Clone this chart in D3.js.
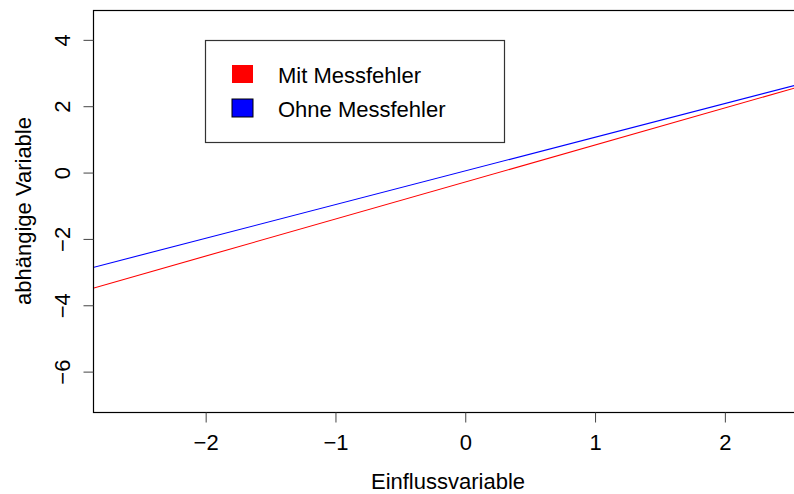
<!DOCTYPE html>
<html>
<head>
<meta charset="utf-8">
<script src="https://cdn.jsdelivr.net/npm/d3@7"></script>
<style>
  body { margin: 0; background: #fff; }
  svg { display: block; font-family: "Liberation Sans", Arial, Helvetica, sans-serif; }
</style>
</head>
<body>
<div id="chart"></div>
<script>
// axis ranges and ticks
var xDomain = [-2.868, 2.602];
var yDomain = [-7.217, 4.9];
var xTicks = [-2, -1, 0, 1, 2];
var yTicks = [-6, -4, -2, 0, 2, 4];

// fitted lines, given by their values at the plot's left and right edge
var lineX = [-2.868, 2.602];
var mitMessfehler = [-3.486, 2.619];
var ohneMessfehler = [-2.861, 2.691];

var seriesNames = ["Mit Messfehler", "Ohne Messfehler"];
var seriesColors = ["#ff0000", "#0000ff"];

var width = 794, height = 494;
var margin = { left: 93, right: -9, top: 10, bottom: 82 };

var svg = d3.select("#chart")
    .append("svg")
    .attr("width", width)
    .attr("height", height);

var x = d3.scaleLinear()
    .domain(xDomain)
    .range([margin.left, width - margin.right]);
var y = d3.scaleLinear()
    .domain(yDomain)
    .range([height - margin.bottom, margin.top]);

var series = [mitMessfehler, ohneMessfehler];
var line = d3.line()
    .x(function(d, i) { return x(lineX[i]); })
    .y(function(d) { return y(d); });

svg.append("defs").append("clipPath")
    .attr("id", "plotclip")
    .append("rect")
    .attr("x", x(xDomain[0]))
    .attr("y", y(yDomain[1]))
    .attr("width", x(xDomain[1]) - x(xDomain[0]))
    .attr("height", y(yDomain[0]) - y(yDomain[1]));

svg.append("g")
    .attr("clip-path", "url(#plotclip)")
    .selectAll("path")
    .data(series)
    .enter()
    .append("path")
    .attr("d", line)
    .attr("fill", "none")
    .attr("stroke", function(d, i) { return seriesColors[i]; })
    .attr("stroke-width", 1.1);

// plot box
svg.append("rect")
    .attr("x", x(xDomain[0]) + 0.5)
    .attr("y", y(yDomain[1]) + 0.5)
    .attr("width", x(xDomain[1]) - x(xDomain[0]))
    .attr("height", y(yDomain[0]) - y(yDomain[1]))
    .attr("fill", "none")
    .attr("stroke", "#000")
    .attr("stroke-width", 1.2);

var fmt = function(d) { return d < 0 ? "\u2212" + Math.abs(d) : String(d); };

// x axis
var xAxis = svg.append("g")
    .attr("transform", "translate(0," + (y(yDomain[0]) + 0.5) + ")")
    .call(d3.axisBottom(x).tickValues(xTicks).tickSize(10).tickFormat(fmt));
xAxis.select(".domain").remove();
xAxis.selectAll(".tick line").attr("stroke", "#444");
xAxis.selectAll("text")
    .attr("y", 37)
    .attr("dy", 0)
    .attr("fill", "#000")
    .style("font-size", "22px")
    .style("font-family", "Liberation Sans, Arial, sans-serif");

// y axis, labels turned like in R
var yAxis = svg.append("g")
    .attr("transform", "translate(" + (x(xDomain[0]) + 0.5) + ",0)")
    .call(d3.axisLeft(y).tickValues(yTicks).tickSize(10).tickFormat(fmt));
yAxis.select(".domain").remove();
yAxis.selectAll(".tick line").attr("stroke", "#444");
yAxis.selectAll("text")
    .attr("x", 0)
    .attr("dy", 0)
    .attr("transform", "translate(-24,0) rotate(-90)")
    .attr("text-anchor", "middle")
    .attr("fill", "#000")
    .style("font-size", "22px")
    .style("font-family", "Liberation Sans, Arial, sans-serif");

// axis titles
svg.append("text")
    .attr("x", (x(xDomain[0]) + x(xDomain[1])) / 2)
    .attr("y", 489)
    .attr("text-anchor", "middle")
    .style("font-size", "22px")
    .text("Einflussvariable");

svg.append("text")
    .attr("transform", "translate(31," + ((y(yDomain[0]) + y(yDomain[1])) / 2) + ") rotate(-90)")
    .attr("text-anchor", "middle")
    .style("font-size", "22px")
    .text("abhängige Variable");

// legend
var legend = svg.append("g");
legend.append("rect")
    .attr("x", 205.5)
    .attr("y", 40.5)
    .attr("width", 299)
    .attr("height", 102)
    .attr("fill", "#fff")
    .attr("stroke", "#333")
    .attr("stroke-width", 1.2);

var item = legend.selectAll(".item")
    .data(seriesNames)
    .enter()
    .append("g")
    .attr("class", "item")
    .attr("transform", function(d, i) { return "translate(0," + (i * 34) + ")"; });

item.append("rect")
    .attr("x", 232)
    .attr("y", 65)
    .attr("width", 21)
    .attr("height", 18)
    .attr("fill", function(d, i) { return seriesColors[i]; })
    .attr("stroke", function(d, i) { return i === 1 ? "#000" : "none"; })
    .attr("stroke-width", 1);

item.append("text")
    .attr("x", 278)
    .attr("y", 83)
    .style("font-size", "22px")
    .text(function(d) { return d; });
</script>
</body>
</html>
